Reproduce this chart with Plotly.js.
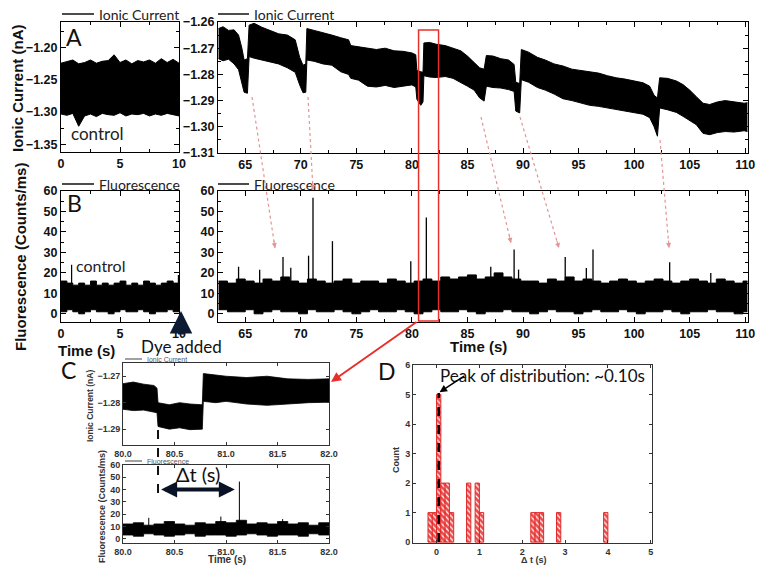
<!DOCTYPE html>
<html>
<head>
<meta charset="utf-8">
<script src="https://cdn.plot.ly/plotly-3.0.1.min.js"></script>
<style>html,body{margin:0;padding:0;background:#fff}#plot{width:764px;height:576px}</style>
</head>
<body>
<div id="plot"></div>
<script>
// ---------- DATA ----------
// Panel A, control (0-10 s): ionic current noise envelope (nA)
const ctrlT   = [0,0.5,1,1.5,2,2.5,3,3.5,4,4.5,5,5.5,6,6.5,7,7.5,8,8.5,9,9.5,10];
const ctrlIHi = [-1.224,-1.222,-1.219,-1.225,-1.223,-1.219,-1.224,-1.221,-1.220,-1.211,-1.223,-1.219,-1.225,-1.220,-1.222,-1.219,-1.224,-1.217,-1.223,-1.218,-1.224];
const ctrlILo = [-1.303,-1.305,-1.302,-1.322,-1.306,-1.303,-1.307,-1.302,-1.304,-1.305,-1.301,-1.306,-1.303,-1.304,-1.302,-1.306,-1.303,-1.305,-1.302,-1.304,-1.306];

// Panel A, after dye (62.5-110 s)
const ionT  = [62.6,63.0,63.5,64.0,64.4,64.7,64.9,65.2,65.35,65.8,66.5,67.2,68.0,68.8,69.5,69.9,70.2,70.45,70.55,71.2,72.0,72.8,73.6,74.3,74.5,75.2,76.0,76.8,77.6,78.4,79.2,80.0,80.35,80.45,80.8,81.0,81.08,81.6,82.2,83.0,83.7,84.4,85.0,85.6,86.1,86.5,86.7,87.3,88.0,88.7,89.2,89.35,89.7,89.85,90.5,91.3,92.0,92.8,93.6,94.4,95.2,96.0,96.8,97.6,98.4,99.2,100.0,100.8,101.4,101.8,102.1,102.3,103.0,103.8,104.4,105.0,105.6,106.2,106.8,107.5,108.2,109.0,109.9,110.2];
const ionHi = [-1.2625,-1.2618,-1.2632,-1.2630,-1.2650,-1.2700,-1.2745,-1.2740,-1.2612,-1.2605,-1.2620,-1.2632,-1.2645,-1.2650,-1.2668,-1.2735,-1.2765,-1.2760,-1.2625,-1.2632,-1.2640,-1.2650,-1.2660,-1.2668,-1.2690,-1.2695,-1.2702,-1.2705,-1.2700,-1.2710,-1.2712,-1.2718,-1.2725,-1.2785,-1.2790,-1.2792,-1.2680,-1.2678,-1.2685,-1.2690,-1.2700,-1.2710,-1.2730,-1.2756,-1.2775,-1.2780,-1.2728,-1.2730,-1.2740,-1.2745,-1.2762,-1.2830,-1.2835,-1.2705,-1.2715,-1.2735,-1.2745,-1.2760,-1.2768,-1.2780,-1.2785,-1.2792,-1.2795,-1.2805,-1.2813,-1.2818,-1.2825,-1.2832,-1.2845,-1.2880,-1.2890,-1.2813,-1.2815,-1.2825,-1.2839,-1.2860,-1.2885,-1.2910,-1.2915,-1.2905,-1.2900,-1.2905,-1.2910,-1.2908];
const ionLo = [-1.2740,-1.2748,-1.2742,-1.2760,-1.2782,-1.2830,-1.2868,-1.2872,-1.2732,-1.2738,-1.2745,-1.2752,-1.2760,-1.2775,-1.2792,-1.2840,-1.2870,-1.2868,-1.2745,-1.2750,-1.2760,-1.2765,-1.2790,-1.2800,-1.2815,-1.2822,-1.2845,-1.2848,-1.2842,-1.2850,-1.2845,-1.2840,-1.2848,-1.2895,-1.2918,-1.2905,-1.2805,-1.2810,-1.2812,-1.2808,-1.2815,-1.2830,-1.2845,-1.2860,-1.2890,-1.2902,-1.2845,-1.2850,-1.2852,-1.2858,-1.2865,-1.2940,-1.2947,-1.2820,-1.2830,-1.2850,-1.2860,-1.2875,-1.2893,-1.2900,-1.2910,-1.2918,-1.2922,-1.2928,-1.2935,-1.2940,-1.2945,-1.2952,-1.2965,-1.3000,-1.3036,-1.2928,-1.2935,-1.2945,-1.2960,-1.2975,-1.2992,-1.3025,-1.3030,-1.3022,-1.3018,-1.3020,-1.3015,-1.3018];

// Panel B, control fluorescence (counts/ms)
const ctrlFHi = [16,15,14,15,14,16,14,15,14,15,16,14,15,14,16,15,14,15,16,15,16];
const ctrlFLo = [1,2,1,0,1,2,1,1,0,1,2,1,1,2,1,0,1,1,2,1,1];
const ctrlSpikeT = [0.9, 9.95];
const ctrlSpikeV = [24, 19];

// Panel B, after dye
const fluoT  = [62.6,63.4,64.2,65.0,65.8,66.6,67.4,68.2,69.0,69.8,70.6,71.4,72.2,73.0,73.8,74.6,75.4,76.2,77.0,77.8,78.6,79.4,80.2,81.0,81.8,82.6,83.4,84.2,85.0,85.8,86.6,87.4,88.2,89.0,89.8,90.6,91.4,92.2,93.0,93.8,94.6,95.4,96.2,97.0,97.8,98.6,99.4,100.2,101.0,101.8,102.6,103.4,104.2,105.0,105.8,106.6,107.4,108.2,109.0,109.8,110.2];
const fluoHi = [16,15,17,16,15,17,16,18,16,15,17,16,15,16,17,15,16,16,15,17,16,15,16,17,16,18,17,18,19,17,18,20,18,17,16,16,15,17,16,18,16,17,16,15,16,17,16,15,16,17,16,15,16,17,16,15,17,16,15,16,16];
const fluoLo = [2,1,1,2,0,1,2,1,1,0,2,1,1,2,1,0,1,2,1,1,2,1,0,1,2,1,1,2,1,0,1,1,2,1,1,0,1,2,1,1,0,1,2,1,1,2,1,0,1,1,2,1,0,1,1,2,1,1,0,1,1];
const spikeT = [64.4,66.3,68.4,69.1,70.7,71.1,72.85,79.9,81.3,87.1,89.2,89.6,93.8,95.7,96.3,103.2,106.9];
const spikeV = [23,21.5,27.8,22.5,28.4,56.7,35.5,25.7,47,23,31.4,21.6,27.8,22.4,31.4,25.2,20];

// Panel C, zoom 80-82 s
const zoomT   = [80.0,80.1,80.2,80.3,80.33,80.34,80.45,80.55,80.65,80.77,80.78,80.9,81.0,81.2,81.4,81.6,81.8,82.0];
const zoomIHi = [-1.2728,-1.2722,-1.2730,-1.2735,-1.2745,-1.2800,-1.2808,-1.2800,-1.2805,-1.2808,-1.2690,-1.2695,-1.2700,-1.2705,-1.2700,-1.2710,-1.2712,-1.2710];
const zoomILo = [-1.2825,-1.2830,-1.2828,-1.2835,-1.2838,-1.2890,-1.2900,-1.2895,-1.2902,-1.2900,-1.2795,-1.2800,-1.2795,-1.2805,-1.2810,-1.2805,-1.2800,-1.2798];
const zoomFT  = [80.0,80.1,80.2,80.3,80.4,80.5,80.6,80.7,80.8,80.9,81.0,81.1,81.2,81.3,81.4,81.5,81.6,81.7,81.8,81.9,82.0];
const zoomFHi = [12,13,11,12,14,12,11,13,12,14,13,15,12,13,12,14,12,13,11,13,12];
const zoomFLo = [3,2,4,3,2,3,4,2,3,3,2,3,4,3,2,3,3,2,4,3,3];
const zoomSpikeT = [81.13, 80.25, 80.95, 81.55];
const zoomSpikeV = [46.5, 17, 18, 16];

// Panel D, histogram of delta t
const dtCenters = [-0.15,-0.05,0.05,0.15,0.25,0.35,0.75,0.95,1.05,2.25,2.35,2.45,2.85,3.95];
const dtCounts  = [1,1,5,2,2,1,2,2,1,1,1,1,1,1];
const peakDt = 0.05;

// ---------- HELPERS ----------
const W = 764, H = 576;
const PX = v => v / W, PY = v => 1 - v / H;
const xd = (a, b) => [a / W, b / W];
const yd = (top, bot) => [1 - bot / H, 1 - top / H];
const SANS = 'Liberation Sans, Arial, sans-serif';
const TXT = 'Lato, Open Sans, sans-serif';

function band(t, hi, lo, xa, ya, w, shape) {
  return [
    {type:'scatter', mode:'lines', x:t, y:lo, xaxis:xa, yaxis:ya, line:{color:'#000', width:w, shape:shape||'linear'}, hoverinfo:'skip'},
    {type:'scatter', mode:'lines', x:t, y:hi, xaxis:xa, yaxis:ya, fill:'tonexty', fillcolor:'#000', line:{color:'#000', width:w, shape:shape||'linear'}, hoverinfo:'skip'}
  ];
}
function spikes(ts, vs, base, xa, ya, w) {
  const x = [], y = [];
  ts.forEach((t, i) => { x.push(t, t, null); y.push(base, vs[i], null); });
  return {type:'scatter', mode:'lines', x, y, xaxis:xa, yaxis:ya, line:{color:'#000', width:w}, hoverinfo:'skip'};
}

const data = [
  ...band(ctrlT, ctrlIHi, ctrlILo, 'x', 'y', 1),
  ...band(ionT, ionHi, ionLo, 'x2', 'y2', 1),
  ...band(ctrlT, ctrlFHi, ctrlFLo, 'x3', 'y3', 1, 'hv'),
  spikes(ctrlSpikeT, ctrlSpikeV, 5, 'x3', 'y3', 1.2),
  ...band(fluoT, fluoHi, fluoLo, 'x4', 'y4', 1, 'hv'),
  spikes(spikeT, spikeV, 5, 'x4', 'y4', 1.3),
  ...band(zoomT, zoomIHi, zoomILo, 'x5', 'y5', 0.8),
  ...band(zoomFT, zoomFHi, zoomFLo, 'x6', 'y6', 0.8, 'hv'),
  spikes(zoomSpikeT, zoomSpikeV, 6, 'x6', 'y6', 1),
  {type:'bar', x:dtCenters, y:dtCounts, width:0.1, xaxis:'x7', yaxis:'y7',
   marker:{color:'#ec4a4a', line:{color:'#e02a2a', width:1},
           pattern:{shape:'\\', fillmode:'replace', bgcolor:'#ec4a4a', fgcolor:'#ffffff', fgopacity:1, size:4, solidity:0.3}}, hoverinfo:'skip'}
];

const tfBig = {family:SANS, size:12.5, color:'#111', weight:'bold'};
const tfSmall = {family:SANS, size:9, color:'#333', weight:'bold'};
function ax(extra, tf, col) {
  return Object.assign({showline:true, linecolor:col||'#000', linewidth:1, mirror:'ticks', ticks:'inside',
    ticklen:5, tickwidth:1, tickcolor:col||'#000', showgrid:false, zeroline:false, tickfont:tf, fixedrange:true}, extra);
}
const minor = d => ({dtick:d, ticks:'inside', ticklen:3, tickcolor:'#000', showgrid:false});

const layout = {
  width:W, height:H, margin:{l:0, r:0, t:0, b:0}, showlegend:false,
  paper_bgcolor:'#fff', plot_bgcolor:'#fff', bargap:0,
  xaxis: ax({domain:xd(61,179), anchor:'y', range:[0,10], tickvals:[0,5,10], minor:minor(2.5)}, tfBig),
  yaxis: ax({domain:yd(22,152), anchor:'x', range:[-1.362,-1.16], tickvals:[-1.20,-1.25,-1.30,-1.35], tickformat:'.2f', minor:minor(0.025)}, tfBig),
  xaxis2: ax({domain:xd(218,748), anchor:'y2', range:[62.55,110.25], dtick:5, tick0:0, minor:minor(2.5)}, tfBig),
  yaxis2: ax({domain:yd(22,153), anchor:'x2', range:[-1.31,-1.26], dtick:0.01, tickformat:'.2f', minor:minor(0.005)}, tfBig),
  xaxis3: ax({domain:xd(61,179), anchor:'y3', range:[0,10], tickvals:[0,5,10], minor:minor(2.5)}, tfBig),
  yaxis3: ax({domain:yd(191,322), anchor:'x3', range:[-4,60], dtick:10, minor:minor(5)}, tfBig),
  xaxis4: ax({domain:xd(218,748), anchor:'y4', range:[62.55,110.25], dtick:5, tick0:0, minor:minor(2.5)}, tfBig),
  yaxis4: ax({domain:yd(191,322), anchor:'x4', range:[-4,60], dtick:10, minor:minor(5)}, tfBig),
  xaxis5: ax({domain:xd(123,329), anchor:'y5', range:[80,82], dtick:0.5, tickformat:'.1f', ticklen:3}, tfSmall, '#333'),
  yaxis5: ax({domain:yd(363,445), anchor:'x5', range:[-1.296,-1.265], tickvals:[-1.27,-1.28,-1.29], tickformat:'.2f', ticklen:3}, tfSmall, '#333'),
  xaxis6: ax({domain:xd(123,329), anchor:'y6', range:[80,82], dtick:0.5, tickformat:'.1f', ticklen:3}, tfSmall, '#333'),
  yaxis6: ax({domain:yd(465,543), anchor:'x6', range:[-3.5,60], dtick:10, ticklen:3}, tfSmall, '#333'),
  xaxis7: ax({domain:xd(413,652), anchor:'y7', range:[-0.55,5.03], dtick:1, ticklen:3}, tfSmall, '#333'),
  yaxis7: ax({domain:yd(365,543), anchor:'x7', range:[-0.03,6], dtick:1, ticklen:3}, tfSmall, '#333'),
  shapes: [], annotations: []
};

const S = layout.shapes, A = layout.annotations;
function pline(x0,y0,x1,y1,color,width,dash){ S.push({type:'line', xref:'paper', yref:'paper', x0:PX(x0), y0:PY(y0), x1:PX(x1), y1:PY(y1), line:{color, width, dash:dash||'solid'}}); }
function txt(x,y,text,font,extra){ A.push(Object.assign({xref:'paper', yref:'paper', x:PX(x), y:PY(y), text, showarrow:false, font, xanchor:'center', yanchor:'middle'}, extra||{})); }
function arrowHead(x0,y0,x1,y1,color,width){
  const dx = x0-x1, dy = y0-y1, L = Math.hypot(dx,dy);
  A.push({xref:'paper', yref:'paper', x:PX(x1), y:PY(y1), ax:dx/L*9, ay:dy/L*9, text:'', showarrow:true, arrowhead:2, arrowsize:1, arrowwidth:width, arrowcolor:color});
}

// legends (line + label)
const legF = {family:TXT, size:14, color:'#222'};
pline(62,14,94,14,'#111',1.5); txt(97,14,'Ionic Current',legF,{xanchor:'left'});
pline(218,14,249,14,'#111',1.5); txt(252,14,'Ionic Current',legF,{xanchor:'left'});
pline(62,184,94,184,'#111',1.5); txt(97,184,'Fluorescence',legF,{xanchor:'left'});
pline(218,184,249,184,'#111',1.5); txt(252,184,'Fluorescence',legF,{xanchor:'left'});
const legS = {family:SANS, size:7, color:'#555'};
pline(125,359,142,359,'#444',1); txt(145,359.5,'Ionic Current',legS,{xanchor:'left'});
pline(125,461,142,461,'#444',1); txt(145,461,'Fluorescence',legS,{xanchor:'left'});

// panel letters and labels
const letF = {family:TXT, size:23, color:'#111'};
txt(74,37,'A',letF); txt(74,203,'B',letF); txt(68,370,'C',letF); txt(387,371,'D',letF);
txt(97,134,'control',{family:TXT, size:17, color:'#222'});
txt(100,265,'control',{family:TXT, size:16, color:'#222'});
txt(17,88,'Ionic Current (nA)',{family:SANS, size:15, color:'#111', weight:'bold'},{textangle:-90});
txt(20,257,'Fluorescence (Counts/ms)',{family:SANS, size:15, color:'#111', weight:'bold'},{textangle:-90});
txt(86,350,'Time (s)',{family:SANS, size:15, color:'#111', weight:'bold'});
txt(478,346,'Time (s)',{family:SANS, size:15, color:'#111', weight:'bold'});
txt(181,346.5,'Dye added',{family:TXT, size:17, color:'#111'});
A.push({xref:'paper', yref:'paper', x:PX(181), y:PY(311), ax:0, ay:25, text:'', showarrow:true, arrowhead:2, arrowsize:0.75, arrowwidth:6, arrowcolor:'#0d1a33'});

// panel C titles
txt(90,406,'Ionic Current (nA)',{family:SANS, size:8.5, color:'#333', weight:'bold'},{textangle:-90});
txt(102,507,'Fluorescence (Counts/ms)',{family:SANS, size:9, color:'#333', weight:'bold'},{textangle:-90});
txt(227,559,'Time (s)',{family:SANS, size:10, color:'#333', weight:'bold'});
txt(198,474,'\u0394t (s)',{family:TXT, size:20, color:'#111'});
S.push({type:'line', xref:'x5', yref:'paper', x0:80.34, x1:80.34, y0:PY(430), y1:PY(497), line:{color:'#111', width:2, dash:'dash'}});
A.push({xref:'x6', yref:'y6', axref:'x6', ayref:'y6', x:80.37, y:40, ax:81.1, ay:40, text:'', showarrow:true, arrowside:'end+start', arrowhead:2, arrowsize:0.8, arrowwidth:4, arrowcolor:'#0a1226'});

// panel D titles and marks
txt(396,460,'Count',{family:SANS, size:9, color:'#333', weight:'bold'},{textangle:-90});
txt(533,560,'\u0394 t (s)',{family:SANS, size:9, color:'#333', weight:'bold'});
txt(542,375,'Peak of distribution: ~0.10s',{family:TXT, size:17, color:'#111'});
S.push({type:'line', xref:'x7', yref:'y7', x0:peakDt, x1:peakDt, y0:0, y1:5.05, line:{color:'#000', width:2.5, dash:'dash'}});
A.push({xref:'x7', yref:'y7', x:peakDt+0.02, y:5.08, ax:26, ay:-17, text:'', showarrow:true, arrowhead:2, arrowsize:1, arrowwidth:1.5, arrowcolor:'#000'});

// red selection box and arrow to panel C
S.push({type:'rect', xref:'x2', yref:'paper', x0:80.6, x1:82.4, y0:PY(321), y1:PY(30), line:{color:'#e8302a', width:1.5}});
A.push({xref:'paper', yref:'paper', x:PX(331), y:PY(382), ax:87, ay:-61, text:'', showarrow:true, arrowhead:2, arrowsize:1, arrowwidth:2, arrowcolor:'#e8302a'});

// pink dotted arrows linking current events to fluorescence spikes
const pink = '#e39494';
[[252,97,275,248],[308,97,313,190],[481,117,511,243],[520,117,559,248],[660,140,669,248]].forEach(a => {
  pline(a[0],a[1],a[2],a[3],pink,1.2,'dot');
  arrowHead(a[0],a[1],a[2],a[3],pink,1);
});

Plotly.newPlot('plot', data, layout, {displayModeBar:false, staticPlot:true});
</script>
</body>
</html>
